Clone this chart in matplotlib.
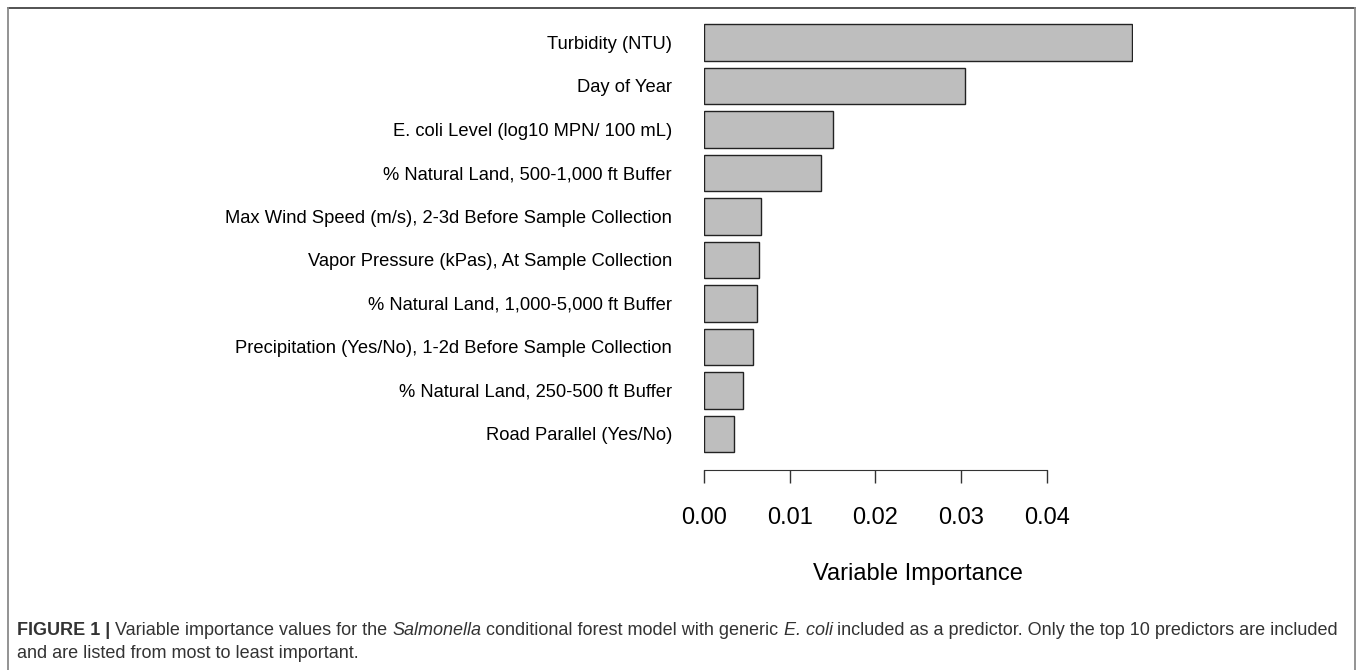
import matplotlib
matplotlib.use("Agg")
import matplotlib.pyplot as plt
from matplotlib.lines import Line2D
from matplotlib import font_manager

# predictors, most to least important
predictors = [
    "Turbidity (NTU)",
    "Day of Year",
    "E. coli Level (log10 MPN/ 100 mL)",
    "% Natural Land, 500-1,000 ft Buffer",
    "Max Wind Speed (m/s), 2-3d Before Sample Collection",
    "Vapor Pressure (kPas), At Sample Collection",
    "% Natural Land, 1,000-5,000 ft Buffer",
    "Precipitation (Yes/No), 1-2d Before Sample Collection",
    "% Natural Land, 250-500 ft Buffer",
    "Road Parallel (Yes/No)",
]
importance = [0.0499, 0.0304, 0.0151, 0.0136, 0.0066, 0.0064, 0.0062, 0.0057, 0.0046, 0.0035]
xticks = [0.00, 0.01, 0.02, 0.03, 0.04]

W, H = 1357, 670
fig = plt.figure(figsize=(W / 100, H / 100), dpi=100)

plt.rcParams["font.family"] = ["Liberation Sans", "DejaVu Sans"]
names = {f.name for f in font_manager.fontManager.ttflist}
cap_font = "Liberation Sans Narrow" if "Liberation Sans Narrow" in names else "Liberation Sans"

# plot region in pixels
x0, x1 = 704, 1132.5
y_top, y_bot = 16.2, 459.9
ax = fig.add_axes([x0 / W, 1 - y_bot / H, (x1 - x0) / W, (y_bot - y_top) / H])

ypos = list(range(len(predictors)))
ax.barh(ypos, importance, height=0.84, color="#bebebe", edgecolor="#222222", linewidth=1.0)
ax.set_xlim(0, 0.05)
ax.set_ylim(9.6, -0.6)

ax.set_yticks(ypos)
ax.set_yticklabels(predictors)
ax.tick_params(axis="y", length=0, pad=23, labelsize=13.2)

ax.set_xticks(xticks)
ax.set_xticklabels([f"{t:.2f}" for t in xticks])
ax.tick_params(axis="x", direction="out", length=9.4, width=1, pad=17,
               color="#333333", labelsize=17)
ax.set_xlabel("Variable Importance", fontsize=17, labelpad=25)

for s in ["top", "right", "left"]:
    ax.spines[s].set_visible(False)
ax.spines["bottom"].set_position(("outward", 7.2))
ax.spines["bottom"].set_bounds(0, 0.04)
ax.spines["bottom"].set_color("#333333")

# frame around the figure panel
def px_line(xs, ys, color, lw):
    fig.add_artist(Line2D([x / W for x in xs], [1 - y / H for y in ys],
                          transform=fig.transFigure, color=color, linewidth=lw))

px_line([7.5, 1355], [8, 8], "#444444", 1.3)
px_line([7.5, 7.5], [8, H], "#8a8a8a", 1.3)
px_line([1355, 1355], [8, H], "#8a8a8a", 1.3)

# caption built from styled runs
fig.canvas.draw()
renderer = fig.canvas.get_renderer()

def caption_line(runs, x, y):
    for txt, weight, style in runs:
        t = fig.text(x / W, 1 - y / H, txt, fontsize=13.0, family=cap_font,
                     weight=weight, style=style, color="#333333", va="baseline")
        bb = t.get_window_extent(renderer)
        x += bb.width

line1 = [
    ("FIGURE 1 | ", "bold", "normal"),
    ("Variable importance values for the ", "normal", "normal"),
    ("Salmonella", "normal", "italic"),
    (" conditional forest model with generic ", "normal", "normal"),
    ("E. coli", "normal", "italic"),
    (" included as a predictor. Only the top 10 predictors are included", "normal", "normal"),
]
line2 = [("and are listed from most to least important.", "normal", "normal")]
caption_line(line1, 17, 635)
caption_line(line2, 17, 658)

fig.savefig("out.png", dpi=100)
